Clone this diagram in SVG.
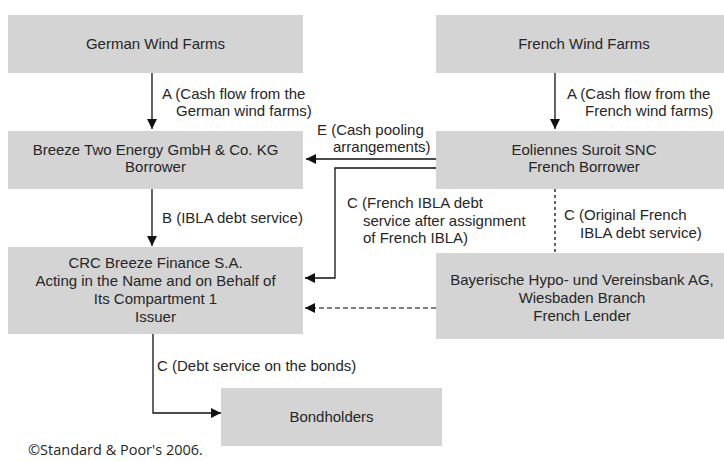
<svg xmlns="http://www.w3.org/2000/svg" width="724" height="461" viewBox="0 0 724 461">
<defs>
<style>
.box{fill:#d4d4d4;}
.t{font-family:"Liberation Sans",Arial,sans-serif;font-size:15px;fill:#262626;}
.c{text-anchor:middle;}
.ln{fill:none;stroke:#111;stroke-width:1.3;}
.dash{fill:none;stroke:#555;stroke-width:1.5;stroke-dasharray:5 3;}
.dot{fill:none;stroke:#111;stroke-width:1.3;stroke-dasharray:3 3;}
.cr{font-family:"Open Sans","Noto Sans",sans-serif;font-size:14.5px;fill:#262626;}
</style>
<marker id="ah" viewBox="0 0 10 10" refX="10" refY="5" markerWidth="10" markerHeight="10" markerUnits="userSpaceOnUse" orient="auto">
<path d="M0,0 L10,5 L0,10 Z" fill="#111"/>
</marker>
</defs>
<rect width="724" height="461" fill="#fff"/>

<g id="german-wind-farms">
<rect class="box" x="8" y="15" width="295" height="58"/>
<text class="t c" x="155.5" y="49">German Wind Farms</text>
</g>
<g id="french-wind-farms">
<rect class="box" x="436" y="15" width="288" height="58"/>
<text class="t c" x="584" y="49">French Wind Farms</text>
</g>
<g id="breeze-two">
<rect class="box" x="8" y="131" width="295" height="58"/>
<text class="t c" x="155.5" y="155">Breeze Two Energy GmbH &amp; Co. KG</text>
<text class="t c" x="155.5" y="172">Borrower</text>
</g>
<g id="eoliennes">
<rect class="box" x="436" y="131" width="288" height="58"/>
<text class="t c" x="584" y="155">Eoliennes Suroit SNC</text>
<text class="t c" x="584" y="172">French Borrower</text>
</g>
<g id="crc-breeze">
<rect class="box" x="8" y="247" width="295" height="87"/>
<text class="t c" x="155.5" y="268">CRC Breeze Finance S.A.</text>
<text class="t c" x="155.5" y="286">Acting in the Name and on Behalf of</text>
<text class="t c" x="155.5" y="304">Its Compartment 1</text>
<text class="t c" x="155.5" y="322">Issuer</text>
</g>
<g id="bayerische">
<rect class="box" x="436" y="253" width="288" height="86"/>
<text class="t c" x="582" y="285">Bayerische Hypo- und Vereinsbank AG,</text>
<text class="t c" x="582" y="303">Wiesbaden Branch</text>
<text class="t c" x="582" y="321">French Lender</text>
</g>
<g id="bondholders">
<rect class="box" x="221" y="388" width="221" height="58"/>
<text class="t c" x="331.5" y="422">Bondholders</text>
</g>

<g id="connectors">
<line class="ln" x1="152" y1="73" x2="152" y2="129" marker-end="url(#ah)"/>
<line class="ln" x1="555" y1="73" x2="555" y2="129" marker-end="url(#ah)"/>
<line class="ln" x1="436" y1="159" x2="306" y2="159" marker-end="url(#ah)"/>
<polyline class="ln" points="436,168 335,168 335,278 305,278" marker-end="url(#ah)"/>
<line class="ln" x1="152" y1="189" x2="152" y2="246" marker-end="url(#ah)"/>
<line class="dot" x1="555" y1="189" x2="555" y2="253"/>
<line class="dash" x1="436" y1="308" x2="305" y2="308" marker-end="url(#ah)"/>
<polyline class="ln" points="153,334 153,413 221,413" marker-end="url(#ah)"/>

<text class="t" x="162" y="99">A (Cash flow from the</text>
<text class="t" x="176" y="116">German wind farms)</text>
<text class="t" x="567" y="99">A (Cash flow from the</text>
<text class="t" x="585" y="116">French wind farms)</text>
<text class="t" x="317" y="135">E (Cash pooling</text>
<text class="t" x="333" y="152">arrangements)</text>
<text class="t" x="162" y="223">B (IBLA debt service)</text>
<text class="t" x="347" y="208">C (French IBLA debt</text>
<text class="t" x="363" y="226">service after assignment</text>
<text class="t" x="363" y="243">of French IBLA)</text>
<text class="t" x="564" y="220">C (Original French</text>
<text class="t" x="580" y="238">IBLA debt service)</text>
<text class="t" x="157" y="371">C (Debt service on the bonds)</text>
</g>
<text class="cr" x="28" y="455">©Standard &amp; Poor's 2006.</text>
</svg>
